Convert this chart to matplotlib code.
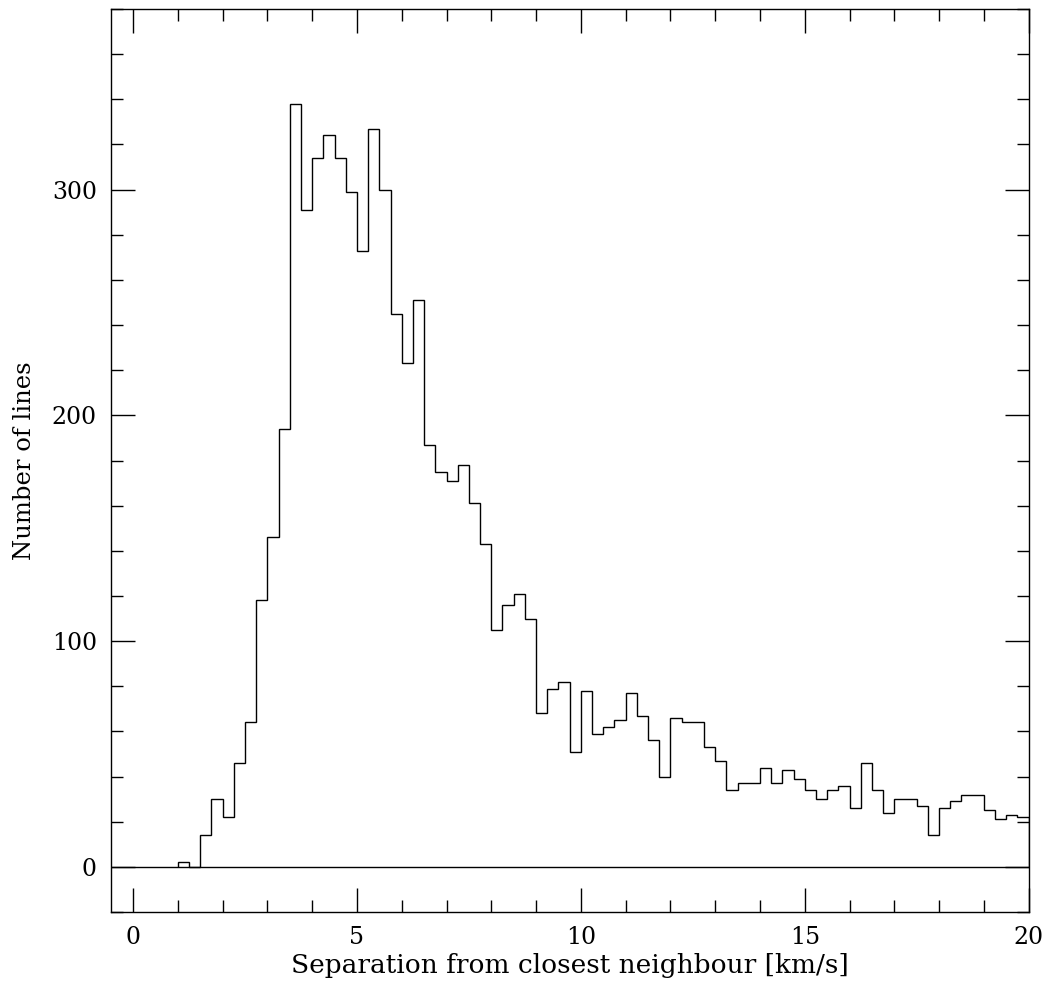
import numpy as np
import matplotlib
matplotlib.use("Agg")
import matplotlib.pyplot as plt
from matplotlib.ticker import MultipleLocator

plt.rcParams['font.family'] = ['DejaVu Serif']

# Histogram data: bin width 0.25 km/s, first bin starting at 1.0 km/s
bin_start = 1.0
bin_width = 0.25
counts = [
    2, 0, 14, 30, 22, 46, 64, 118, 146, 194,          # 1.0 - 3.25
    338, 291, 314, 324, 314, 299, 273, 327, 300, 245,  # 3.5 - 5.75
    223, 251, 187, 175, 171, 178, 161, 143, 105, 116,  # 6.0 - 8.25
    121, 110, 68, 79, 82, 51, 78, 59, 62, 65,          # 8.5 - 10.75
    77, 67, 56, 40, 66, 64, 64, 53, 47, 34,            # 11.0 - 13.25
    37, 37, 44, 37, 43, 39, 34, 30, 34, 36,            # 13.5 - 15.75
    26, 46, 34, 24, 30, 30, 27, 14, 26, 29,            # 16.0 - 18.25
    32, 32, 25, 21, 23, 22,                            # 18.5 - 19.75
]
x_ticks_major = [0, 5, 10, 15, 20]
y_ticks_major = [0, 100, 200, 300]

edges = bin_start + bin_width * np.arange(len(counts) + 1)

fig = plt.figure(figsize=(10.56, 9.86), dpi=100)
ax = fig.add_axes([0.1048, 0.0750, 0.8693, 0.9159])

ax.stairs(counts, edges, color='black', linewidth=1.0, baseline=0)
ax.axhline(0, color='black', linewidth=1.0)

ax.set_xlim(-0.5, 20)
ax.set_ylim(-20, 380)
ax.set_xticks(x_ticks_major)
ax.set_yticks(y_ticks_major)
ax.xaxis.set_minor_locator(MultipleLocator(1))
ax.yaxis.set_minor_locator(MultipleLocator(20))
ax.tick_params(which='both', direction='in', top=True, right=True,
               labelsize=17, width=1.0)
ax.tick_params(axis='x', pad=10)
ax.tick_params(axis='y', pad=10)
ax.tick_params(which='major', length=17)
ax.tick_params(which='minor', length=8.5)
for s in ax.spines.values():
    s.set_linewidth(1.0)

ax.set_xlabel('Separation from closest neighbour [km/s]', fontsize=19, labelpad=3)
ax.set_ylabel('Number of lines', fontsize=17.5, labelpad=11)

fig.savefig('out.png', dpi=100)
